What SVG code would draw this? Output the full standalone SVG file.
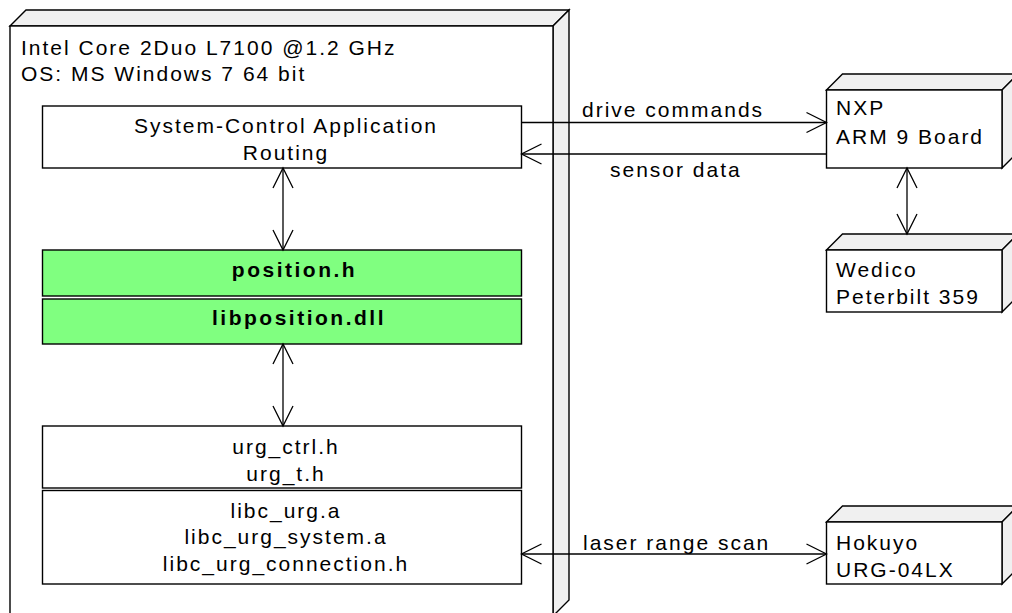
<svg xmlns="http://www.w3.org/2000/svg" width="1012" height="613" viewBox="0 0 1012 613">
<style>
.t{font-family:"Liberation Sans",Arial,sans-serif;font-size:21px;letter-spacing:2px;fill:#000}
.c{text-anchor:middle}
.b{font-weight:bold;letter-spacing:2.5px}
.box{fill:#fff;stroke:#000;stroke-width:1.4}
.grn{fill:#80ff80;stroke:#000;stroke-width:1.4}
.face{fill:#f0f0f0;stroke:#000;stroke-width:1.4;stroke-linejoin:miter}
.ln{fill:none;stroke:#000;stroke-width:1.3}
</style>
<defs>
<marker id="arr" markerUnits="userSpaceOnUse" markerWidth="24" markerHeight="24" viewBox="-22 -12 24 24" refX="0" refY="0" orient="auto-start-reverse">
<path d="M-20,-10 L0,0 L-20,10" fill="none" stroke="#000" stroke-width="1.3"/>
</marker>
</defs>
<g id="pc">
<polygon class="face" points="10,26 26,10 569,10 553,26"/>
<polygon class="face" points="553,26 569,10 569,600 553,616"/>
<rect class="box" x="10" y="26" width="543" height="600"/>
<text class="t" x="21" y="55">Intel Core 2Duo L7100 @1.2 GHz</text>
<text class="t" x="21" y="81">OS: MS Windows 7 64 bit</text>
</g>
<g id="sysctrl">
<rect class="box" x="42.5" y="106" width="479" height="62"/>
<text class="t c" x="286" y="133">System-Control Application</text>
<text class="t c" x="286" y="160">Routing</text>
</g>
<g id="position_h">
<rect class="grn" x="42.5" y="250" width="479" height="46"/>
<text class="t c b" x="294.5" y="277">position.h</text>
</g>
<g id="libposition">
<rect class="grn" x="42.5" y="299" width="479" height="45"/>
<text class="t c b" x="299" y="325">libposition.dll</text>
</g>
<g id="urg_headers">
<rect class="box" x="42.5" y="426" width="479" height="62"/>
<text class="t c" x="286" y="454">urg_ctrl.h</text>
<text class="t c" x="286" y="481">urg_t.h</text>
</g>
<g id="urg_libs">
<rect class="box" x="42.5" y="490.5" width="479" height="93.5"/>
<text class="t c" x="286" y="518">libc_urg.a</text>
<text class="t c" x="286" y="544">libc_urg_system.a</text>
<text class="t c" x="286" y="571">libc_urg_connection.h</text>
</g>
<g id="nxp">
<polygon class="face" points="826.5,90 842.5,74 1018,74 1002,90"/>
<polygon class="face" points="1002,90 1018,74 1018,152 1002,168"/>
<rect class="box" x="826.5" y="90" width="175.5" height="78"/>
<text class="t" x="836" y="115">NXP</text>
<text class="t" x="836" y="144">ARM 9 Board</text>
</g>
<g id="wedico">
<polygon class="face" points="826.5,250 842.5,234 1018,234 1002,250"/>
<polygon class="face" points="1002,250 1018,234 1018,296 1002,312"/>
<rect class="box" x="826.5" y="250" width="175.5" height="62"/>
<text class="t" x="836" y="277">Wedico</text>
<text class="t" x="836" y="304">Peterbilt 359</text>
</g>
<g id="hokuyo">
<polygon class="face" points="826.5,522 842.5,506 1018,506 1002,522"/>
<polygon class="face" points="1002,522 1018,506 1018,568 1002,584"/>
<rect class="box" x="826.5" y="522" width="175.5" height="62"/>
<text class="t" x="836" y="550">Hokuyo</text>
<text class="t" x="836" y="577">URG-04LX</text>
</g>
<g id="connectors">
<line class="ln" x1="521.5" y1="122.5" x2="826.5" y2="122.5" marker-end="url(#arr)"/>
<line class="ln" x1="826.5" y1="154" x2="521.5" y2="154" marker-end="url(#arr)"/>
<line class="ln" x1="283" y1="168" x2="283" y2="250" marker-start="url(#arr)" marker-end="url(#arr)"/>
<line class="ln" x1="283" y1="344" x2="283" y2="426" marker-start="url(#arr)" marker-end="url(#arr)"/>
<line class="ln" x1="907" y1="168" x2="907" y2="234" marker-start="url(#arr)" marker-end="url(#arr)"/>
<line class="ln" x1="521.5" y1="554" x2="826.5" y2="554" marker-start="url(#arr)" marker-end="url(#arr)"/>
<text class="t" x="582" y="117">drive commands</text>
<text class="t" x="610" y="177">sensor data</text>
<text class="t" x="583" y="550">laser range scan</text>
</g>
</svg>
